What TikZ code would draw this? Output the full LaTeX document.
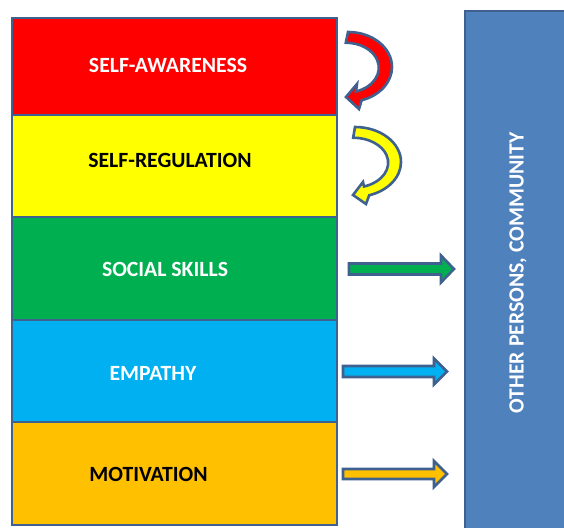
\documentclass[tikz,border=0pt]{standalone}
\usepackage{fontspec}
\setmainfont{Carlito}
\begin{document}
\begin{tikzpicture}[x=1pt,y=1pt]
\definecolor{edge}{HTML}{3E6190}
\definecolor{cred}{HTML}{FF0000}
\definecolor{cyel}{HTML}{FFFF00}
\definecolor{cgrn}{HTML}{00B050}
\definecolor{ccyn}{HTML}{00B0F0}
\definecolor{corg}{HTML}{FFC000}
\definecolor{cblu}{HTML}{4F81BD}
\tikzset{
  band/.style={draw=edge, line width=2pt},
  lbl/.style={font=\bfseries\fontsize{21.7}{24}\selectfont},
  arr/.style={draw=edge, line width=2.6pt, line join=miter},
}
\useasboundingbox (0,0) rectangle (564,-527);
% right panel
\path[fill=cblu, draw=edge, line width=2pt] (465,-11) rectangle (570,-535);
\node[lbl, text=white, rotate=90] (other) at (518,-273) {OTHER PERSONS, COMMUNITY};
% stacked boxes
\path[band, fill=cred] (12,-18) rectangle (337,-115);
\path[band, fill=cyel] (12,-115) rectangle (337,-217);
\path[band, fill=cgrn] (12,-217) rectangle (337,-320);
\path[band, fill=ccyn] (12,-320) rectangle (337,-422);
\path[band, fill=corg] (12,-422) rectangle (337,-525);
\node[lbl, text=white] (sa) at (168,-65) {SELF-AWARENESS};
\node[lbl, text=black] (sr) at (170,-160) {SELF-REGULATION};
\node[lbl, text=white] (ss) at (165,-269) {SOCIAL SKILLS};
\node[lbl, text=white] (em) at (153,-373) {EMPATHY};
\node[lbl, text=black] (mo) at (148.5,-474) {MOTIVATION};
% curved arrows
\path[arr, fill=cred] (348,-32) arc[start angle=90, end angle=-72, x radius=44pt, y radius=35pt]
  -- (359,-109) -- (346,-97) -- (357,-84)
  -- (356,-91.5) arc[start angle=-72, end angle=90, x radius=33pt, y radius=25pt] -- cycle;
\path[arr, fill=cyel] (355,-127) arc[start angle=90, end angle=-72, x radius=46pt, y radius=35pt]
  -- (366,-204) -- (353,-195) -- (363,-182)
  -- (364,-186.5) arc[start angle=-72, end angle=90, x radius=35pt, y radius=25pt] -- cycle;
% straight arrows
\path[arr, fill=cgrn] (349,-263.5) -- (441,-263.5) -- (441,-255.5) -- (454,-269) -- (441,-282.5) -- (441,-274.5) -- (349,-274.5) -- cycle;
\path[arr, fill=ccyn] (343,-366) -- (434,-366) -- (434,-358.5) -- (447,-371.5) -- (434,-384.5) -- (434,-377) -- (343,-377) -- cycle;
\path[arr, fill=corg] (343,-469) -- (434,-469) -- (434,-461) -- (447,-474) -- (434,-487) -- (434,-479) -- (343,-479) -- cycle;
\end{tikzpicture}
\end{document}
